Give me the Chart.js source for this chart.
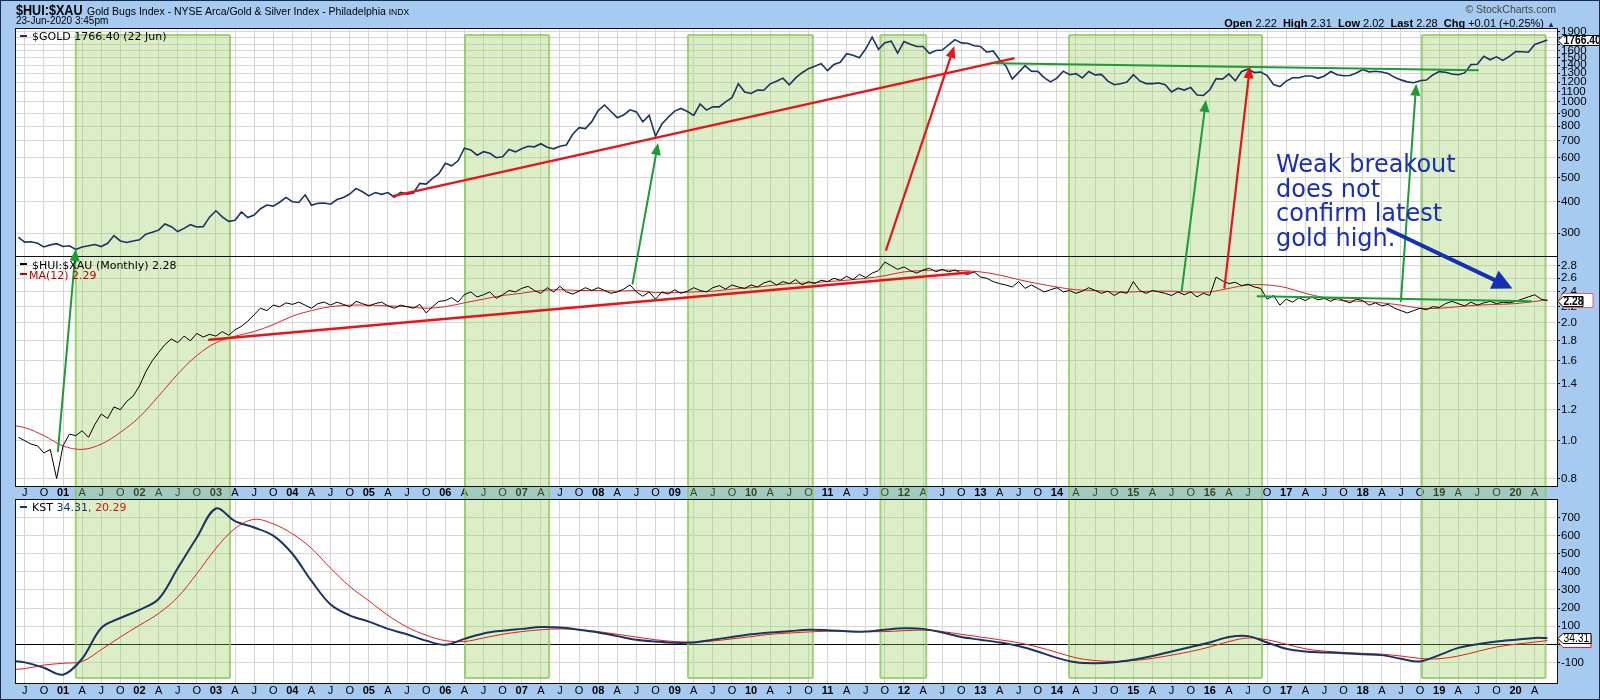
<!DOCTYPE html>
<html>
<head>
<meta charset="utf-8">
<script src="https://cdn.jsdelivr.net/npm/chart.js@4.4.1/dist/chart.umd.min.js"></script>
<style>
  html, body { margin: 0; padding: 0; }
  body { width: 1600px; height: 700px; background: #a6caf0; position: relative; overflow: hidden; font-family: 'Liberation Sans', Arial, sans-serif; }
  #edge { position: absolute; left: 0; top: 0; width: 1598px; height: 698px; border: 1px solid #1b2a4a; z-index: 20; }
  canvas { position: absolute; left: 0; }
  .t { position: absolute; white-space: nowrap; line-height: 1; color: #000; z-index: 10; }
  .leg { font-family: 'DejaVu Sans', sans-serif; font-size: 11px; }
  .dash { position: absolute; width: 7px; height: 2px; z-index: 10; }
  .note { position: absolute; left: 1276px; font-family: 'DejaVu Sans', sans-serif; font-size: 24px; color: #1b2fb0; line-height: 1; white-space: nowrap; z-index: 10; }
</style>
</head>
<body>
<div id="edge"></div>
<canvas id="goldChart" width="1600" height="262" style="top:0px; z-index:1"></canvas>
<canvas id="ratioChart" width="1600" height="250" style="top:250px; z-index:2"></canvas>
<canvas id="kstChart" width="1600" height="210" style="top:490px; z-index:3"></canvas>
<canvas id="notes" width="1600" height="700" style="top:0px; z-index:5"></canvas>

<div class="t" style="left:16px; top:2px; font-size:15px; font-weight:bold; transform:scaleX(0.84); transform-origin:left top;">$HUI:$XAU</div>
<div class="t" style="left:87px; top:6px; font-size:10.5px;">Gold Bugs Index - NYSE Arca/Gold &amp; Silver Index - Philadelphia <span style="font-size:8.5px">INDX</span></div>
<div class="t" style="left:16px; top:16px; font-size:10px;">23-Jun-2020 3:45pm</div>
<div class="t" style="right:44px; top:4px; font-size:10.5px; color:#444;">&copy; StockCharts.com</div>
<div class="t" style="right:45px; top:18px; font-size:11px;"><b>Open</b> 2.22 &nbsp;<b>High</b> 2.31 &nbsp;<b>Low</b> 2.02 &nbsp;<b>Last</b> 2.28 &nbsp;<b>Chg</b> +0.01 (+0.25%) <span style="font-size:8px; color:#1b2a4a">&#9650;</span></div>

<div class="dash" style="left:20px; top:35px; background:#1d3461"></div>
<div class="t leg" style="left:32px; top:31px;">$GOLD 1766.40 (22 Jun)</div>
<div class="dash" style="left:20px; top:263px; background:#000"></div>
<div class="t leg" style="left:32px; top:260px;">$HUI:$XAU (Monthly) 2.28</div>
<div class="dash" style="left:20px; top:273px; background:#c00000"></div>
<div class="t leg" style="left:29px; top:270px; color:#c00000;">MA(12) 2.29</div>
<div class="dash" style="left:20px; top:506px; background:#1d3461"></div>
<div class="t leg" style="left:32px; top:502px;">KST <span style="color:#1d3461">34.31</span><span style="color:#d01818">, 20.29</span></div>

<div class="note" style="top:152px">Weak breakout</div>
<div class="note" style="top:176.5px">does not</div>
<div class="note" style="top:201px">confirm latest</div>
<div class="note" style="top:225.5px">gold high.</div>

<script>
// months are counted from Jan 2000 (Jan 2001 = 12)
const firstMonth = 5      // Jun 2000
const firstQuarter = 3    // Apr 2000, smooth lines are read every 3 months
const lastMonth = 245     // Jun 2020

// $GOLD monthly close, Jun 2000 - Jun 2020
const goldClose = [
  288, 276, 277, 273, 264, 269, 272,
  265, 267, 258, 264, 267, 270, 265, 273, 293, 279, 275, 279,
  282, 297, 302, 308, 326, 318, 304, 313, 324, 317, 318, 347,
  368, 348, 334, 337, 364, 346, 354, 375, 388, 384, 398, 416,
  400, 397, 426, 387, 394, 395, 391, 408, 416, 429, 452, 438,
  422, 435, 428, 435, 417, 436, 429, 433, 473, 470, 495, 517,
  569, 556, 582, 654, 643, 613, 633, 624, 599, 604, 646, 632,
  650, 665, 662, 681, 659, 650, 666, 673, 743, 789, 783, 834,
  923, 972, 916, 865, 887, 930, 912, 833, 884, 730, 816, 869,
  919, 942, 916, 883, 980, 927, 955, 955, 1001, 1040, 1182, 1096,
  1081, 1116, 1113, 1180, 1208, 1244, 1169, 1246, 1307, 1357, 1386, 1421,
  1332, 1409, 1439, 1556, 1536, 1500, 1628, 1813, 1620, 1722, 1746, 1564,
  1740, 1697, 1662, 1664, 1560, 1604, 1610, 1687, 1772, 1719, 1713, 1675,
  1663, 1578, 1596, 1472, 1392, 1234, 1312, 1395, 1326, 1324, 1250, 1202,
  1244, 1326, 1284, 1296, 1246, 1322, 1282, 1287, 1210, 1171, 1182, 1199,
  1283, 1213, 1183, 1183, 1190, 1172, 1095, 1134, 1115, 1142, 1065, 1061,
  1118, 1238, 1233, 1293, 1215, 1322, 1351, 1309, 1316, 1273, 1173, 1152,
  1211, 1249, 1249, 1268, 1268, 1242, 1269, 1322, 1283, 1271, 1275, 1303,
  1345, 1318, 1325, 1315, 1298, 1253, 1224, 1202, 1192, 1215, 1222, 1281,
  1321, 1313, 1292, 1284, 1305, 1409, 1413, 1520, 1472, 1513, 1464, 1517,
  1587, 1585, 1577, 1694, 1730, 1766.4
]

// $HUI:$XAU monthly, Jun 2000 - Jun 2020
const ratioClose = [
  1.02, 1.00, 0.98, 0.97, 0.93, 0.95, 0.80,
  0.97, 1.04, 1.03, 1.06, 1.02, 1.10, 1.17, 1.14, 1.22, 1.20, 1.26, 1.30,
  1.38, 1.50, 1.60, 1.68, 1.76, 1.82, 1.78, 1.85, 1.80, 1.88, 1.84, 1.87,
  1.85, 1.90, 1.86, 1.92, 1.96, 2.02, 2.10, 2.18, 2.15, 2.22, 2.20, 2.25,
  2.23, 2.26, 2.22, 2.18, 2.24, 2.26, 2.22, 2.26, 2.23, 2.20, 2.27, 2.24,
  2.21, 2.24, 2.26, 2.21, 2.18, 2.22, 2.20, 2.18, 2.23, 2.12, 2.20, 2.27,
  2.28, 2.32, 2.26, 2.36, 2.40, 2.33, 2.36, 2.40, 2.31, 2.36, 2.42, 2.40,
  2.45, 2.48, 2.42, 2.38, 2.46, 2.40, 2.48, 2.40, 2.37, 2.41, 2.46, 2.42,
  2.46, 2.42, 2.38, 2.40, 2.44, 2.50, 2.40, 2.34, 2.40, 2.30, 2.40, 2.37,
  2.43, 2.38, 2.41, 2.46, 2.42, 2.40, 2.46, 2.49, 2.44, 2.50, 2.47, 2.45,
  2.50, 2.47, 2.53, 2.56, 2.50, 2.55, 2.52, 2.58, 2.50, 2.55, 2.52, 2.57,
  2.55, 2.60, 2.57, 2.63, 2.58, 2.66, 2.61, 2.68, 2.72, 2.86, 2.80, 2.74,
  2.78, 2.72, 2.68, 2.73, 2.76, 2.70, 2.74, 2.70, 2.73, 2.68, 2.66, 2.70,
  2.62, 2.60, 2.55, 2.52, 2.50, 2.47, 2.55, 2.45, 2.50, 2.45, 2.40, 2.43,
  2.46, 2.40, 2.42, 2.38, 2.41, 2.46, 2.42, 2.38, 2.41, 2.35, 2.40, 2.38,
  2.55, 2.42, 2.38, 2.42, 2.40, 2.38, 2.35, 2.40, 2.36, 2.40, 2.33, 2.38,
  2.35, 2.62, 2.56, 2.52, 2.54, 2.49, 2.51, 2.47, 2.45, 2.30, 2.35, 2.22,
  2.30, 2.26, 2.32, 2.28, 2.33, 2.29, 2.31, 2.27, 2.32, 2.28, 2.25, 2.30,
  2.28, 2.22, 2.25, 2.21, 2.23, 2.18, 2.15, 2.12, 2.15, 2.18, 2.16, 2.20,
  2.19, 2.24, 2.27, 2.24, 2.21, 2.26, 2.22, 2.25, 2.27, 2.24, 2.26, 2.25,
  2.27, 2.30, 2.33, 2.36, 2.30, 2.28
]

// MA(12), read every quarter Apr 2000 - Apr 2020, then the last value
const ratioMa = [
  1.10, 1.08, 1.03,
  0.97, 0.95, 0.98, 1.05,
  1.15, 1.30, 1.48, 1.65,
  1.78, 1.85, 1.90, 1.98,
  2.08, 2.15, 2.20, 2.22,
  2.22, 2.21, 2.20, 2.18,
  2.20, 2.25, 2.30, 2.35,
  2.38, 2.42, 2.43, 2.42,
  2.42, 2.41, 2.42, 2.39,
  2.39, 2.40, 2.41, 2.44,
  2.46, 2.49, 2.52, 2.53,
  2.55, 2.57, 2.60, 2.64,
  2.70, 2.72, 2.73, 2.72,
  2.70, 2.65, 2.58, 2.52,
  2.47, 2.43, 2.42, 2.40,
  2.40, 2.41, 2.41, 2.40,
  2.40, 2.45, 2.50, 2.50,
  2.46, 2.38, 2.32, 2.28,
  2.27, 2.25, 2.22, 2.18,
  2.18, 2.20, 2.22, 2.23,
  2.24, 2.27
]
const ratioMaLast = 2.29

// KST and its signal line, read every quarter Apr 2000 - Apr 2020
const kstLine = [
  -90, -100, -130,
  -168, -80, 90, 145,
  190, 250, 420, 590,
  750, 680, 645, 600,
  500, 350, 220, 160,
  125, 85, 55, 20,
  -3, 30, 60, 75,
  85, 95, 92, 80,
  65, 45, 25, 15,
  8, 10, 25, 40,
  55, 65, 72, 80,
  78, 72, 70, 80,
  88, 85, 65, 40,
  25, 10, -10, -40,
  -75, -100, -105, -100,
  -85, -65, -40, -15,
  10, 40, 45, 10,
  -25, -40, -45, -50,
  -55, -60, -80, -95,
  -60, -20, 0, 15,
  25, 35
]
const kstLast = 34.31
const kstSignal = [
  -140, -135, -115,
  -105, -95, -30, 40,
  105, 170, 260, 390,
  530, 640, 690, 665,
  610, 530, 420, 320,
  240, 160, 95, 50,
  20, 15, 35, 55,
  70, 80, 85, 80,
  70, 55, 40, 25,
  15, 12, 18, 30,
  42, 55, 62, 68,
  72, 72, 70, 70,
  75, 78, 70, 55,
  40, 25, 8, -15,
  -45, -75, -90, -95,
  -90, -78, -60, -40,
  -15, 15, 35, 25,
  0, -25, -38, -45,
  -50, -55, -65, -78,
  -80, -65, -40, -15,
  0, 12
]
const kstSignalLast = 20.29

// shaded periods, start and end month
const bands = [[14, 38.2], [75.1, 88.3], [110.1, 129.7], [140.3, 147.5], [169.9, 200.2], [225.3, 244.7]]

const goldTicks = [300, 400, 500, 600, 700, 800, 900, 1000, 1100, 1200, 1300, 1400, 1500, 1600, 1700, 1800, 1900]
const ratioTicks = [0.8, 1.0, 1.2, 1.4, 1.6, 1.8, 2.0, 2.2, 2.4, 2.6, 2.8]
const kstTicks = [-100, 0, 100, 200, 300, 400, 500, 600, 700]

// drawn trend lines and arrows, in month / value units of each panel
const trendLines = [
  ['gold', 63.8, 421, 161.2, 1491, 'red'],
  ['gold', 158.3, 1425, 234.1, 1336, 'green'],
  ['ratio', 34.95, 1.81, 154.3, 2.69, 'red'],
  ['ratio', 199.5, 2.34, 242.4, 2.27, 'green']
]
const arrows = [
  ['ratio', 11.2, 0.94, 'gold', 14.0, 259, 'green'],
  ['ratio', 101.4, 2.52, 'gold', 105.4, 686, 'green'],
  ['gold', 141.2, 257, 'gold', 151.9, 1672, 'red'],
  ['ratio', 187.6, 2.42, 'gold', 191.4, 1017, 'green'],
  ['ratio', 194.3, 2.46, 'gold', 198.3, 1386, 'red'],
  ['ratio', 222.0, 2.275, 'gold', 224.4, 1182, 'green'],
  ['gold', 220, 310, 'ratio', 239.5, 2.45, 'blue']
]

const colors = { red: '#e8141a', green: '#1e9b36', blue: '#1530b0' }
const gridColor = '#d6d6d6'
const tickFont = "'Liberation Sans', Arial, sans-serif"
const xMin = 4.62
const xMax = 246.5

const quarterTicks = []
for (let m = 6; m <= 243; m += 3) quarterTicks.push(m)

function quarterLabel(m) {
  const q = m % 12
  if (q === 0) return String(m / 12).padStart(2, "0")
  return { 3: "A", 6: "J", 9: "O" }[q]
}

const monthly = arr => arr.map((v, i) => ({ x: firstMonth + i, y: v }))
const quarterly = (arr, last) => arr.map((v, i) => ({ x: firstQuarter + 3 * i, y: v })).concat([{ x: lastMonth, y: last }])

function drawTag(ctx, x, y, w, h, text, stroke, bold) {
  ctx.beginPath()
  ctx.moveTo(x, y)
  ctx.lineTo(x + 5, y - h)
  ctx.lineTo(x + w, y - h)
  ctx.lineTo(x + w, y + h)
  ctx.lineTo(x + 5, y + h)
  ctx.closePath()
  ctx.fillStyle = "#fff"
  ctx.fill()
  ctx.lineWidth = 1
  ctx.strokeStyle = stroke
  ctx.stroke()
  if (text) {
    ctx.save()
    ctx.translate(x + 5.5, y + 0.5)
    ctx.scale(0.86, 1)
    ctx.fillStyle = "#000"
    ctx.font = (bold ? "bold " : "") + "12px 'Liberation Sans', Arial, sans-serif"
    ctx.textBaseline = "middle"
    ctx.textAlign = "left"
    ctx.fillText(text, 0, 0)
    ctx.restore()
  }
}

const panelPlugin = {
  id: "panel",
  beforeDraw(chart) {
    const { ctx, chartArea: a } = chart
    ctx.save()
    ctx.fillStyle = "#fff"
    ctx.fillRect(a.left, a.top, a.width, a.height)
    ctx.restore()
  },
  beforeDatasetsDraw(chart, args, opts) {
    const { ctx, chartArea: a, scales: { x } } = chart
    const top = a.top + opts.bandTop
    const bottom = a.bottom + opts.bandBottom
    ctx.save()
    bands.forEach(([s, e]) => {
      const x1 = x.getPixelForValue(s)
      const x2 = x.getPixelForValue(e)
      ctx.fillStyle = "rgba(150, 205, 95, 0.34)"
      ctx.fillRect(x1, top, x2 - x1, bottom - top)
      ctx.strokeStyle = "rgba(140, 200, 90, 0.8)"
      ctx.lineWidth = 2
      ctx.beginPath()
      ctx.moveTo(x1, top); ctx.lineTo(x1, bottom)
      ctx.moveTo(x2, top); ctx.lineTo(x2, bottom)
      if (opts.closeTop) { ctx.moveTo(x1, top); ctx.lineTo(x2, top) }
      if (opts.closeBottom) { ctx.moveTo(x1, bottom); ctx.lineTo(x2, bottom) }
      ctx.stroke()
    })
    ctx.restore()
  },
  afterDraw(chart, args, opts) {
    const { ctx, chartArea: a, scales: { y } } = chart
    ctx.save()
    ctx.strokeStyle = "#111"
    ctx.lineWidth = 1
    ctx.strokeRect(a.left - 0.5, a.top - 0.5, a.width + 1, a.height + 1)
    ;(opts.tags || []).forEach(t => {
      drawTag(ctx, a.right + 1, Math.round(y.getPixelForValue(t.value)) + 0.5, t.w, t.h, t.text, t.stroke, t.bold)
    })
    ctx.restore()
  }
}

function xAxis(height, showLabels, pad) {
  return {
    type: "linear", min: xMin, max: xMax,
    afterBuildTicks: s => { s.ticks = quarterTicks.map(v => ({ value: v })) },
    afterFit: s => { s.height = height; s.paddingLeft = 0; s.paddingRight = 0 },
    grid: { color: gridColor, drawTicks: false },
    border: { display: false },
    ticks: {
      display: showLabels, autoSkip: false, maxRotation: 0, padding: pad, color: "#000",
      font: c => ({ family: tickFont, size: 11, weight: c.tick && c.tick.value % 12 === 0 ? "bold" : "normal" }),
      callback: v => quarterLabel(v)
    }
  }
}

function yAxis(type, min, max, ticks, fmt, gridCol) {
  return {
    type, position: "right", min, max,
    afterBuildTicks: s => { s.ticks = ticks.map(v => ({ value: v })) },
    afterFit: s => { s.width = 43; s.paddingTop = 0; s.paddingBottom = 0 },
    grid: { color: gridCol || gridColor, tickColor: "#000", tickLength: 3 },
    border: { display: true, color: "#000" },
    ticks: { autoSkip: false, padding: 1, color: "#000", font: { family: tickFont, size: 11.5 }, callback: fmt }
  }
}

const common = {
  responsive: false,
  animation: false,
  events: [],
  elements: { point: { radius: 0 } },
  plugins: { legend: { display: false }, tooltip: { enabled: false } }
}

const goldChart = new Chart(document.getElementById("goldChart"), {
  type: "line",
  data: {
    datasets: [
      { data: monthly(goldClose), borderColor: "#1d3461", borderWidth: 1.6, tension: 0 }
    ]
  },
  options: {
    ...common,
    layout: { padding: { top: 29, bottom: 5, left: 16, right: 0 } },
    scales: {
      x: xAxis(0, false, 0),
      y: yAxis("logarithmic", 240.7, 1953, goldTicks, v => (v === 1700 || v === 1800 ? "" : String(v)))
    },
    plugins: {
      ...common.plugins,
      panel: { bandTop: 6, bandBottom: 0, closeTop: true, tags: [{ value: 1766.4, text: "1766.40", w: 42, h: 5, stroke: "#000", bold: true }] }
    }
  },
  plugins: [panelPlugin]
})

const ratioChart = new Chart(document.getElementById("ratioChart"), {
  type: "line",
  data: {
    datasets: [
      { data: monthly(ratioClose), borderColor: "#000", borderWidth: 1, tension: 0 },
      { data: quarterly(ratioMa, ratioMaLast), borderColor: "#d42a2a", borderWidth: 1, tension: 0.35 }
    ]
  },
  options: {
    ...common,
    layout: { padding: { top: 7, bottom: 1, left: 16, right: 0 } },
    scales: {
      x: xAxis(13, true, 0),
      y: yAxis("logarithmic", 0.766, 2.947, ratioTicks, v => v.toFixed(1))
    },
    plugins: {
      ...common.plugins,
      panel: {
        bandTop: 0, bandBottom: 13,
        tags: [
          { value: ratioMaLast, text: "", w: 35, h: 7, stroke: "#e0607a", bold: false },
          { value: 2.28, text: "2.28", w: 25, h: 5, stroke: "#000", bold: true }
        ]
      }
    }
  },
  plugins: [panelPlugin]
})

const kstChart = new Chart(document.getElementById("kstChart"), {
  type: "line",
  data: {
    datasets: [
      { data: quarterly(kstLine, kstLast), borderColor: "#1d3461", borderWidth: 2, tension: 0.35 },
      { data: quarterly(kstSignal, kstSignalLast), borderColor: "#e02020", borderWidth: 1, tension: 0.35 }
    ]
  },
  options: {
    ...common,
    layout: { padding: { top: 10, bottom: 1, left: 16, right: 0 } },
    scales: {
      x: xAxis(16, true, 1),
      y: yAxis("linear", -214, 797, kstTicks, v => String(v), c => (c.tick && c.tick.value === 0 ? "#000" : gridColor))
    },
    plugins: {
      ...common.plugins,
      panel: {
        bandTop: 0, bandBottom: -5, closeBottom: true,
        tags: [
          { value: kstSignalLast, text: "", w: 33, h: 6, stroke: "#e02020", bold: false },
          { value: kstLast, text: "34.31", w: 33, h: 5, stroke: "#000", bold: false }
        ]
      }
    }
  },
  plugins: [panelPlugin]
})

// trend lines and arrows cross the panels, so they go on one canvas on top
const charts = { gold: goldChart, ratio: ratioChart, kst: kstChart }
const offsets = { gold: 0, ratio: 250, kst: 490 }

function toPx(panel, m, v) {
  const c = charts[panel]
  return [c.scales.x.getPixelForValue(m), offsets[panel] + c.scales.y.getPixelForValue(v)]
}

const notes = document.getElementById("notes").getContext("2d")
notes.lineCap = "round"

trendLines.forEach(([panel, m1, v1, m2, v2, col]) => {
  const [x1, y1] = toPx(panel, m1, v1)
  const [x2, y2] = toPx(panel, m2, v2)
  notes.strokeStyle = colors[col]
  notes.lineWidth = col === "red" ? 2.5 : 2
  notes.beginPath()
  notes.moveTo(x1, y1)
  notes.lineTo(x2, y2)
  notes.stroke()
})

arrows.forEach(([p1, m1, v1, p2, m2, v2, col]) => {
  const [x1, y1] = toPx(p1, m1, v1)
  const [x2, y2] = toPx(p2, m2, v2)
  const big = col === "blue"
  const len = big ? 20 : 12
  const half = big ? 10 : 5
  const ang = Math.atan2(y2 - y1, x2 - x1)
  const bx = x2 - len * Math.cos(ang)
  const by = y2 - len * Math.sin(ang)
  notes.strokeStyle = colors[col]
  notes.fillStyle = colors[col]
  notes.lineWidth = big ? 4 : (col === "red" ? 2.2 : 2)
  notes.beginPath()
  notes.moveTo(x1, y1)
  notes.lineTo(bx, by)
  notes.stroke()
  notes.beginPath()
  notes.moveTo(x2, y2)
  notes.lineTo(bx + half * Math.sin(ang), by - half * Math.cos(ang))
  notes.lineTo(bx - half * Math.sin(ang), by + half * Math.cos(ang))
  notes.closePath()
  notes.fill()
})
</script>
</body>
</html>
